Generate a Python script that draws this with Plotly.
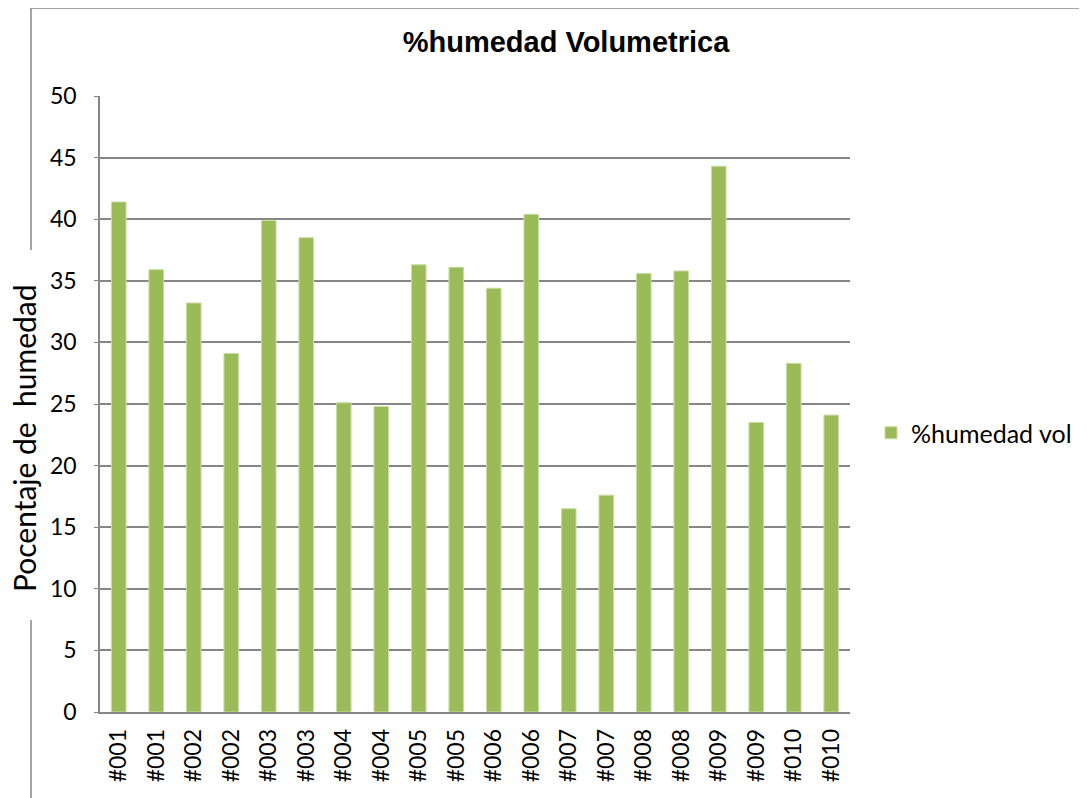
import plotly.graph_objects as go

# === DADOS ===
categorias = ["#001", "#001", "#002", "#002", "#003", "#003", "#004", "#004", "#005", "#005",
              "#006", "#006", "#007", "#007", "#008", "#008", "#009", "#009", "#010", "#010"]
humedad_vol = [41.4, 35.9, 33.2, 29.1, 39.9, 38.5, 25.1, 24.8, 36.3, 36.1,
               34.4, 40.4, 16.5, 17.6, 35.6, 35.8, 44.3, 23.5, 28.3, 24.1]
y_ticks = [0, 5, 10, 15, 20, 25, 30, 35, 40, 45, 50]

W, H = 1087, 798
OFF = 8  # margem padrao do <body> na pagina
# area do grafico na imagem: x 100..850, y 96..712
L, T = 100 - OFF, 96 - OFF
R, B = W - (850 - OFF), H - (712 - OFF)
GRIS = "#868686"
VERDE = "#9BBB59"

# posicao em pixel (imagem) -> coordenada paper
def px(x):
    return (x - 100) / 750

def py(y):
    return (712 - y) / 616

fig = go.Figure()

fig.add_trace(go.Bar(
    x=list(range(len(categorias))), y=humedad_vol, name="%humedad vol",
    marker=dict(color=VERDE, line=dict(color="#C8DDA5", width=1)),
))

# moldura do grafico (estilo Excel), interrompida no titulo do eixo y
frame = dict(type="line", xref="paper", yref="paper", line=dict(color=GRIS, width=1.5))
fig.add_shape(**frame, x0=px(31), x1=px(31), y0=py(8), y1=py(250))
fig.add_shape(**frame, x0=px(31), x1=px(31), y0=py(620), y1=py(810))
fig.add_shape(**frame, x0=px(31), x1=px(1100), y0=py(8), y1=py(8))

fig.add_annotation(
    text="Pocentaje de\u00a0\u00a0humedad", xref="paper", yref="paper",
    x=px(24), y=py(438), xanchor="center", yanchor="middle",
    textangle=-90, showarrow=False, borderpad=0,
    font=dict(family="Lato", size=30, color="black"),
)

fig.update_layout(
    width=W, height=H,
    margin=dict(l=L, r=R, t=T, b=B, autoexpand=False),
    paper_bgcolor="white", plot_bgcolor="white",
    title=dict(text="<b>%humedad Volumetrica</b>", xref="container", yref="container",
               x=(566 - OFF) / W, xanchor="center",
               y=1 - (42 - OFF) / H, yanchor="middle",
               font=dict(family="Liberation Sans", size=29, color="black")),
    bargap=0.61,
    showlegend=True,
    legend=dict(x=px(871), y=py(433), xanchor="left", yanchor="middle",
                font=dict(family="Lato", size=25, color="black"),
                itemwidth=30),
    xaxis=dict(
        tickmode="array", tickvals=list(range(len(categorias))), ticktext=categorias,
        tickangle=-90, range=[-0.5, len(categorias) - 0.5],
        showgrid=False, showline=True, linecolor=GRIS, linewidth=1.5,
        ticks="", ticklabelstandoff=6,
        tickfont=dict(family="Lato", size=23, color="black"),
    ),
    yaxis=dict(
        range=[0, 50], tickvals=y_ticks,
        showgrid=True, gridcolor=GRIS, gridwidth=1.5,
        showline=True, linecolor=GRIS, linewidth=1.5,
        ticks="outside", ticklen=4, tickcolor=GRIS, ticklabelstandoff=13,
        zeroline=False,
        tickfont=dict(family="Lato", size=23, color="black"),
    ),
)

fig.write_html("out.html")
